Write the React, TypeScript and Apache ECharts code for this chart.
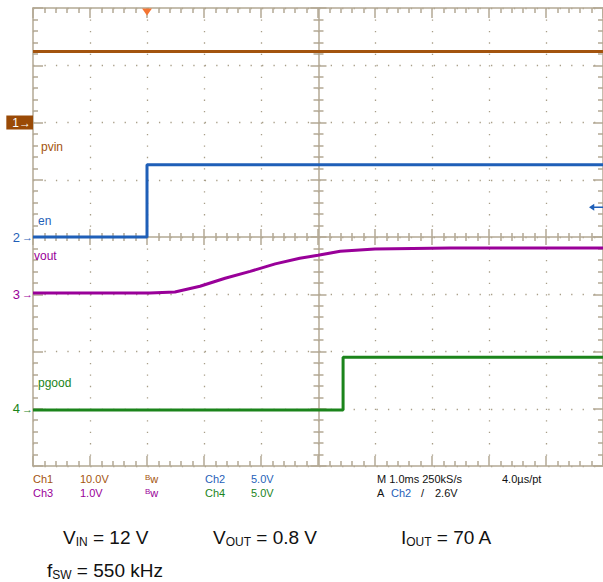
import React, { useEffect, useRef } from "react";
import * as echarts from "echarts";

// ---------- data ----------
const channelNames = ["pvin", "en", "vout", "pgood"];
const channelColors = ["#a3540e", "#1f5fb8", "#990099", "#1b841b"];
const channelOffsetsDiv = [6, 4, 3, 1];
const channelVoltsPerDiv = [10, 5, 1, 5];

const timeMinMs = -2;
const timeMaxMs = 8;
const vertDivs = 8;

const pvinTimeMs = [-2, 8];
const pvinVolts = [12.4, 12.4];
const enTimeMs = [-2, 0, 0, 8];
const enVolts = [0, 0, 6.3, 6.3];
const voutTimeMs = [-2, 0.05, 0.49, 0.93, 1.37, 1.81, 2.25, 2.68, 3.0, 3.39, 4.0, 5.32, 8];
const voutVolts = [0.02, 0.02, 0.04, 0.14, 0.28, 0.4, 0.53, 0.63, 0.68, 0.75, 0.79, 0.81, 0.81];
const pgoodTimeMs = [-2, 3.44, 3.44, 8];
const pgoodVolts = [-0.1, -0.1, 4.5, 4.5];

const triggerTimeMs = 0;
const triggerLevelVolts = 2.6;

const infoRow1 = [
  { text: "Ch1", color: 0 },
  { text: "10.0V", color: 0 },
  { text: "Bw", color: 0 },
  { text: "Ch2", color: 1 },
  { text: "5.0V", color: 1 },
  { text: "M 1.0ms 250kS/s", color: -1 },
  { text: "4.0\u00b5s/pt", color: -1 },
];
const infoRow2 = [
  { text: "Ch3", color: 2 },
  { text: "1.0V", color: 2 },
  { text: "Bw", color: 2 },
  { text: "Ch4", color: 3 },
  { text: "5.0V", color: 3 },
  { text: "A", color: -1 },
  { text: "Ch2", color: 1 },
  { text: "/", color: -1 },
  { text: "2.6V", color: -1 },
];

const conditionTexts = [
  { main: "V", sub: "IN", rest: " = 12 V" },
  { main: "V", sub: "OUT", rest: " = 0.8 V" },
  { main: "I", sub: "OUT", rest: " = 70 A" },
  { main: "f", sub: "SW", rest: " = 550 kHz" },
];

// ---------- layout / style ----------
const GRID_LEFT = 33;
const GRID_TOP = 8;
const GRID_W = 571;
const GRID_H = 458;
const gridColor = "#b3a994";
const FONT = "'Liberation Sans', Arial, sans-serif";

const row1X = [33, 80, 145, 205, 251, 377, 502];
const row2X = [33, 80, 145, 205, 251, 377, 391, 421, 435];
const condPos = [
  [63, 537],
  [213, 537],
  [401, 537],
  [47, 570],
];
const chanLabelPos = [
  [41, 147],
  [38, 221],
  [34, 256],
  [38, 383],
];

function toDiv(ch: number, v: number) {
  return channelOffsetsDiv[ch] + v / channelVoltsPerDiv[ch];
}

function build(ch: number, ts: number[], vs: number[]) {
  return ts.map((t, i) => [t, toDiv(ch, vs[i])]);
}

const App: React.FC = () => {
  const ref = useRef<HTMLDivElement>(null);

  useEffect(() => {
    if (!ref.current) return;
    const chart = echarts.init(ref.current, undefined, { renderer: "svg" });

    const tickStyle = { color: gridColor, width: 1.5 };
    const mkX = (extra: any) => ({
      type: "value",
      min: timeMinMs,
      max: timeMaxMs,
      interval: 1,
      axisLabel: { show: false },
      splitLine: { show: false },
      axisLine: { show: true, onZero: false, lineStyle: tickStyle },
      axisTick: { show: true, inside: true, length: 10, lineStyle: tickStyle },
      minorTick: { show: true, splitNumber: 5, length: 5, lineStyle: tickStyle },
      ...extra,
    });
    const mkY = (extra: any) => ({
      type: "value",
      min: 0,
      max: vertDivs,
      interval: 1,
      axisLabel: { show: false },
      splitLine: { show: false },
      axisLine: { show: true, onZero: false, lineStyle: tickStyle },
      axisTick: { show: true, inside: true, length: 10, lineStyle: tickStyle },
      minorTick: { show: true, splitNumber: 5, length: 5, lineStyle: tickStyle },
      ...extra,
    });
    const dotted = {
      show: true,
      lineStyle: { color: "#a89e88", width: 1.3, type: [1.3, 10.15] },
    };

    const markerRich: any = {
      box: {
        backgroundColor: "#9a4a06",
        color: "#fff",
        fontSize: 12,
        fontFamily: FONT,
        padding: [1, 2, 1, 6],
      },
    };
    channelColors.forEach((c, i) => {
      markerRich["c" + i] = { color: c, fontSize: 13, fontFamily: FONT };
      markerRich["a" + i] = { color: c, fontSize: 11, fontFamily: FONT, padding: [0, 0, 0, 2] };
    });

    const seriesData = [
      build(0, pvinTimeMs, pvinVolts),
      build(1, enTimeMs, enVolts),
      build(2, voutTimeMs, voutVolts),
      build(3, pgoodTimeMs, pgoodVolts),
    ];

    const series: any[] = seriesData.map((d, i) => ({
      name: channelNames[i],
      type: "line",
      data: d,
      showSymbol: false,
      xAxisIndex: 0,
      yAxisIndex: 0,
      z: 5,
      lineStyle: { color: channelColors[i], width: 3 },
      itemStyle: { color: channelColors[i] },
    }));
    series[1].markPoint = {
      silent: true,
      label: { show: false },
      data: [
        {
          coord: [triggerTimeMs, vertDivs],
          symbol: "triangle",
          symbolRotate: 180,
          symbolSize: [10, 7],
          symbolOffset: [0, 4],
          itemStyle: { color: "#f47532" },
        },
        {
          coord: [timeMaxMs, toDiv(1, triggerLevelVolts)],
          symbol: "path://M0,5 L6,0 L6,4 L16,4 L16,6 L6,6 L6,10 Z",
          symbolSize: [14, 7],
          symbolOffset: [-7, 0],
          itemStyle: { color: channelColors[1] },
        },
      ],
    };

    const rowColor = (c: number) => (c < 0 ? "#111" : channelColors[c]);
    const infoText = (item: any, x: number, y: number) => {
      if (item.text === "Bw") {
        return {
          type: "text",
          x,
          y,
          style: {
            text: "{b|B}{w|w}",
            rich: {
              b: { fontSize: 8, fontFamily: FONT, fill: rowColor(item.color), padding: [0, 0, 4, 0] },
              w: { fontSize: 11, fontFamily: FONT, fill: rowColor(item.color) },
            },
            verticalAlign: "middle",
          },
        };
      }
      return {
        type: "text",
        x,
        y,
        style: {
          text: item.text,
          fill: rowColor(item.color),
          font: `11px ${FONT}`,
          verticalAlign: "middle",
        },
      };
    };

    const graphics: any[] = [];
    infoRow1.forEach((it, i) => graphics.push(infoText(it, row1X[i], 479)));
    infoRow2.forEach((it, i) => graphics.push(infoText(it, row2X[i], 493)));
    channelNames.forEach((n, i) =>
      graphics.push({
        type: "text",
        x: chanLabelPos[i][0],
        y: chanLabelPos[i][1],
        z: 10,
        style: { text: n, fill: channelColors[i], font: `12px ${FONT}`, verticalAlign: "middle" },
      })
    );
    conditionTexts.forEach((c, i) =>
      graphics.push({
        type: "text",
        x: condPos[i][0],
        y: condPos[i][1],
        style: {
          text: `{m|${c.main}}{s|${c.sub}}{m|${c.rest}}`,
          verticalAlign: "middle",
          rich: {
            m: { fontSize: 19, fontFamily: FONT, fill: "#111", lineHeight: 22 },
            s: { fontSize: 12, fontFamily: FONT, fill: "#111", lineHeight: 10, verticalAlign: "bottom" },
          },
        },
      })
    );

    chart.setOption({
      animation: false,
      backgroundColor: "#ffffff",
      grid: { left: GRID_LEFT, top: GRID_TOP, width: GRID_W, height: GRID_H, show: false },
      xAxis: [
        mkX({ position: "bottom", splitLine: dotted }),
        mkX({ position: "top" }),
        mkX({
          position: "bottom",
          offset: -GRID_H / 2,
          axisTick: { show: true, inside: true, length: 8, lineStyle: tickStyle },
          minorTick: { show: true, splitNumber: 5, length: 4, lineStyle: tickStyle },
        }),
        mkX({
          position: "bottom",
          offset: -GRID_H / 2,
          axisLine: { show: false, onZero: false },
          axisTick: { show: true, inside: false, length: 8, lineStyle: tickStyle },
          minorTick: { show: true, splitNumber: 5, length: 4, lineStyle: tickStyle },
        }),
      ],
      yAxis: [
        mkY({
          position: "left",
          splitLine: dotted,
          axisLabel: {
            show: true,
            margin: 0,
            formatter: (v: number) => {
              const idx = channelOffsetsDiv.indexOf(v);
              if (idx < 0) return "";
              if (idx === 0) return `{box|${idx + 1}\u2192}`;
              return `{c${idx}|${idx + 1}}{a${idx}|\u2192}`;
            },
            rich: markerRich,
          },
        }),
        mkY({ position: "right" }),
        mkY({
          position: "left",
          offset: -GRID_W / 2,
          axisTick: { show: true, inside: true, length: 8, lineStyle: tickStyle },
          minorTick: { show: true, splitNumber: 5, length: 5, lineStyle: tickStyle },
        }),
        mkY({
          position: "left",
          offset: -GRID_W / 2,
          axisLine: { show: false, onZero: false },
          axisTick: { show: true, inside: false, length: 8, lineStyle: tickStyle },
          minorTick: { show: true, splitNumber: 5, length: 5, lineStyle: tickStyle },
        }),
      ],
      series,
      graphic: graphics,
    });

    return () => chart.dispose();
  }, []);

  return (
    <div
      ref={ref}
      style={{ position: "absolute", left: 0, top: 0, width: 603, height: 582, background: "#fff" }}
    />
  );
};

export default App;
